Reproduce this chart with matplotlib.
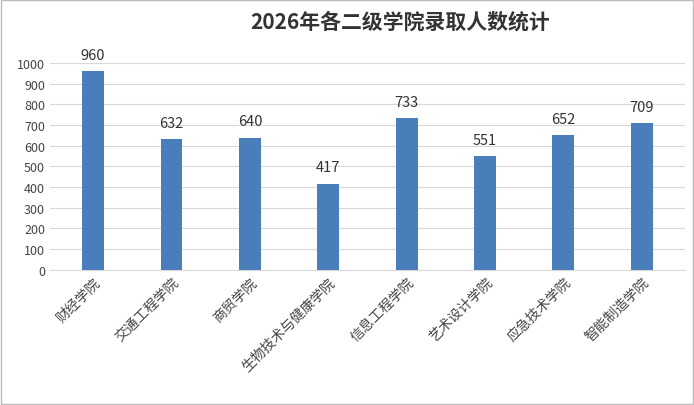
import matplotlib
matplotlib.use('Agg')
import matplotlib.pyplot as plt

plt.rcParams['font.family'] = ['Noto Sans CJK SC', 'DejaVu Sans']

categories = ['财经学院', '交通工程学院', '商贸学院', '生物技术与健康学院', '信息工程学院', '艺术设计学院', '应急技术学院', '智能制造学院']
values = [960, 632, 640, 417, 733, 551, 652, 709]
yticks = list(range(0, 1001, 100))

fig = plt.figure(figsize=(6.94, 4.06), dpi=100)
ax = fig.add_axes([0.072, 0.333, 0.915, 0.509])
x = range(len(categories))
ax.bar(x, values, width=0.28, color='#4a7ebb', zorder=3)
for i, v in zip(x, values):
    ax.text(i, v + 45, str(v), ha='center', va='bottom', fontsize=10.5, color='#333333')
ax.set_ylim(0, 1000)
ax.set_xlim(-0.55, len(categories) - 0.45)
ax.set_yticks(yticks)
ax.tick_params(axis='y', length=0, labelsize=9, colors='#444444')
ax.tick_params(axis='x', length=0, labelsize=10, colors='#444444')
ax.set_xticks(list(x))
ax.set_xticklabels(categories, rotation=45, ha='right', rotation_mode='anchor')
ax.grid(axis='y', color='#d9d9d9', linewidth=0.8, zorder=0)
for s in ['top', 'right', 'left']:
    ax.spines[s].set_visible(False)
ax.spines['bottom'].set_color('#d9d9d9')
fig.text(0.577, 0.945, '2026年各二级学院录取人数统计', ha='center', va='center',
         fontsize=15, fontweight='bold', color='#333333')
fig.patches.append(plt.Rectangle((0.002, 0.002), 0.996, 0.996, transform=fig.transFigure,
                                 fill=False, edgecolor='#bbbbbb', linewidth=1))
fig.savefig('out.png', dpi=100)
